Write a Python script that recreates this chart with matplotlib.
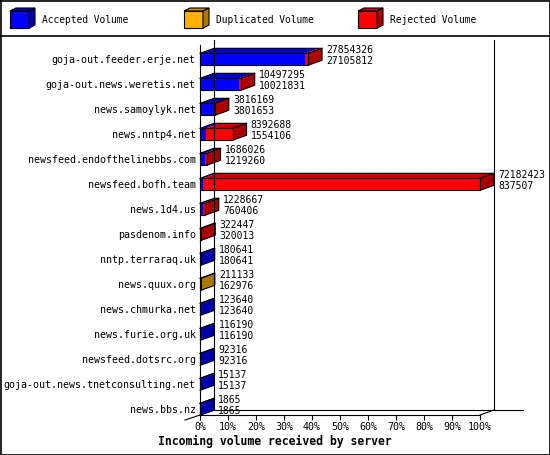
import matplotlib
matplotlib.use("Agg")
import matplotlib.pyplot as plt
import matplotlib.colors as mcolors
from matplotlib.patches import Polygon

plt.rcParams['font.family'] = ['DejaVu Sans Mono']

# --- data ---
servers = [
    "goja-out.feeder.erje.net",
    "goja-out.news.weretis.net",
    "news.samoylyk.net",
    "news.nntp4.net",
    "newsfeed.endofthelinebbs.com",
    "newsfeed.bofh.team",
    "news.1d4.us",
    "pasdenom.info",
    "nntp.terraraq.uk",
    "news.quux.org",
    "news.chmurka.net",
    "news.furie.org.uk",
    "newsfeed.dotsrc.org",
    "goja-out.news.tnetconsulting.net",
    "news.bbs.nz",
]
offered = [27854326, 10497295, 3816169, 8392688, 1686026, 72182423, 1228667,
           322447, 180641, 211133, 123640, 116190, 92316, 15137, 1865]
accepted = [27105812, 10021831, 3801653, 1554106, 1219260, 837507, 760406,
            320013, 180641, 162976, 123640, 116190, 92316, 15137, 1865]
duplicated = [0, 0, 0, 0, 0, 0, 0, 0, 0, 48157, 0, 0, 0, 0, 0]
rejected = [748514, 475464, 14516, 6838582, 466766, 71344916, 468261,
            2434, 0, 0, 0, 0, 0, 0, 0]
pct_ticks = [0, 10, 20, 30, 40, 50, 60, 70, 80, 90, 100]

series_names = ["Accepted Volume", "Duplicated Volume", "Rejected Volume"]
series_colors = ["#0000ff", "#ffb000", "#ff0000"]


def shade(c, f):
    r, g, b = mcolors.to_rgb(c)
    return (r * f, g * f, b * f)


W, H = 550, 455
fig = plt.figure(figsize=(W / 100, H / 100), dpi=100)
fig.patch.set_facecolor("white")

# full-figure canvas in pixel units for the frame and legend
canvas = fig.add_axes([0, 0, 1, 1])
canvas.set_xlim(0, W)
canvas.set_ylim(H, 0)
canvas.axis("off")

# --- plot area (front plane) ---
x0px, x1px, y0px, y1px = 200, 480, 45, 415
row_px = 25.0
first_center = 59.3
ax = fig.add_axes([x0px / W, 1 - y1px / H, (x1px - x0px) / W, (y1px - y0px) / H])
ax.set_xlim(0, 100)
ax.set_ylim((y1px - first_center) / row_px, (y0px - first_center) / row_px)
ax.patch.set_alpha(0)

px_x = 100.0 / (x1px - x0px)   # data units per pixel, x
px_y = 1.0 / row_px            # data units per pixel, y
DX = 14 * px_x
DY = 5 * px_y
HALF = 6 * px_y
LW = 0.8

scale = 100.0 / max(offered)
for i in range(len(servers)):
    parts = [accepted[i], duplicated[i], rejected[i]]
    top, bot = i - HALF, i + HALF
    left = 0.0
    last = series_colors[0]
    for v, c in zip(parts, series_colors):
        if v <= 0:
            continue
        w = v * scale
        ax.add_patch(Polygon([(left, bot), (left + w, bot), (left + w, top), (left, top)],
                             fc=c, ec="none", clip_on=False))
        ax.add_patch(Polygon([(left, top), (left + w, top), (left + w + DX, top - DY),
                              (left + DX, top - DY)],
                             fc=shade(c, 0.8), ec="none", clip_on=False))
        left += w
        last = c
    end = left
    ax.add_patch(Polygon([(end, bot), (end + DX, bot - DY), (end + DX, top - DY), (end, top)],
                         fc=shade(last, 0.68), ec="none", clip_on=False))
    # outline
    ax.plot([0, end, end, 0, 0], [bot, bot, top, top, bot], color="black", lw=LW, clip_on=False)
    ax.plot([0, DX, end + DX, end + DX, end], [top, top - DY, top - DY, bot - DY, bot],
            color="black", lw=LW, clip_on=False)
    ax.plot([end, end + DX], [top, top - DY], color="black", lw=LW, clip_on=False)

    ax.annotate(str(offered[i]), xy=(end + DX, i), xytext=(3, 6.8),
                textcoords="offset points", va="center", ha="left", fontsize=7,
                annotation_clip=False)
    ax.annotate(str(accepted[i]), xy=(end + DX, i), xytext=(3, -1.2),
                textcoords="offset points", va="center", ha="left", fontsize=7,
                annotation_clip=False)

# 3D frame walls
ybot, ytop = ax.get_ylim()
frame = dict(color="black", lw=LW, clip_on=False)
ax.plot([DX, DX], [ytop - DY, ybot - DY], **frame)
ax.plot([100 + DX, 100 + DX], [ytop - DY, ybot - DY], **frame)
ax.plot([DX, 100 + 15.4], [ybot - DY, ybot - DY], **frame)
ax.plot([-15 * px_x, 0], [ybot + DY, ybot], **frame)
ax.plot([100, 100 + DX], [ybot, ybot - DY], **frame)

for s in ["top", "right"]:
    ax.spines[s].set_visible(False)
for s in ["left", "bottom"]:
    ax.spines[s].set_linewidth(LW)

ax.set_yticks(range(len(servers)))
ax.set_yticklabels(servers, fontsize=7.2)
ax.tick_params(axis="y", length=0, pad=3)
ax.set_xticks(pct_ticks)
ax.set_xticklabels([f"{p}%" for p in pct_ticks], fontsize=7.2)
ax.tick_params(axis="x", length=3.6, width=LW, direction="out", pad=1.5)

# title below axis
canvas.text(275, 441, "Incoming volume received by server", ha="center", va="center",
            fontsize=8.3, fontweight="bold")

# legend row
for lx, name, c in zip([10, 184, 358], series_names, series_colors):
    fw, fh, dx, dy, ty = 19, 17, 6, 3, 11
    canvas.add_patch(Polygon([(lx, ty), (lx + fw, ty), (lx + fw, ty + fh), (lx, ty + fh)],
                             fc=c, ec="black", lw=LW))
    canvas.add_patch(Polygon([(lx, ty), (lx + fw, ty), (lx + fw + dx, ty - dy), (lx + dx, ty - dy)],
                             fc=shade(c, 0.8), ec="black", lw=LW))
    canvas.add_patch(Polygon([(lx + fw, ty), (lx + fw + dx, ty - dy), (lx + fw + dx, ty + fh - dy),
                              (lx + fw, ty + fh)],
                             fc=shade(c, 0.68), ec="black", lw=LW))
    canvas.text(lx + 32, 20, name, va="center", ha="left", fontsize=6.9)

# outer border and legend separator
canvas.plot([0.5, W - 0.5, W - 0.5, 0.5, 0.5], [0.5, 0.5, H - 0.5, H - 0.5, 0.5],
            color="black", lw=1.2)
canvas.plot([0, W], [35.5, 35.5], color="black", lw=1.2)

fig.savefig("out.png", dpi=100, facecolor="white")
